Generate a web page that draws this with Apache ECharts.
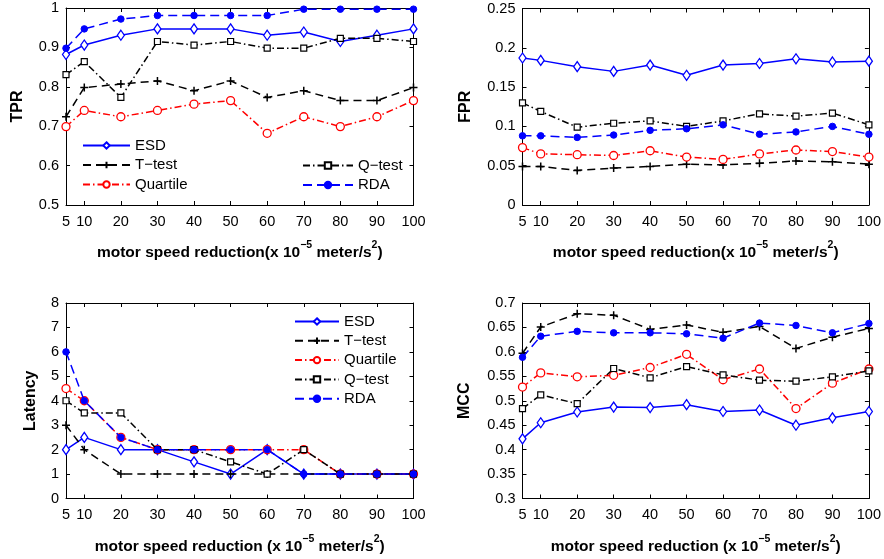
<!DOCTYPE html>
<html>
<head>
<meta charset="utf-8">
<script src="https://cdn.jsdelivr.net/npm/echarts@6/dist/echarts.min.js"></script>
<style>
  html, body { margin: 0; padding: 0; background: #fff; }
  #chart { width: 884px; height: 559px; }
</style>
</head>
<body>
<div id="chart"></div>
<script>
// Motor speed reduction levels (x 10^-5 meter/s^2)
const speedReduction = [5, 10, 20, 30, 40, 50, 60, 70, 80, 90, 100];

// True positive rate
const tprESD      = [0.882, 0.906, 0.931, 0.947, 0.947, 0.947, 0.931, 0.939, 0.915, 0.931, 0.947];
const tprTtest    = [0.724, 0.798, 0.807, 0.815, 0.790, 0.815, 0.773, 0.790, 0.765, 0.765, 0.798];
const tprQuartile = [0.699, 0.740, 0.724, 0.740, 0.756, 0.765, 0.682, 0.724, 0.699, 0.724, 0.765];
const tprQtest    = [0.831, 0.864, 0.773, 0.915, 0.906, 0.915, 0.898, 0.898, 0.923, 0.923, 0.915];
const tprRDA      = [0.898, 0.947, 0.972, 0.981, 0.981, 0.981, 0.981, 0.997, 0.997, 0.997, 0.997];

// False positive rate
const fprESD      = [0.187, 0.184, 0.176, 0.170, 0.178, 0.165, 0.178, 0.180, 0.186, 0.182, 0.183];
const fprTtest    = [0.049, 0.049, 0.044, 0.047, 0.049, 0.052, 0.051, 0.053, 0.056, 0.055, 0.052];
const fprQuartile = [0.073, 0.065, 0.064, 0.063, 0.069, 0.061, 0.058, 0.065, 0.070, 0.068, 0.061];
const fprQtest    = [0.130, 0.119, 0.099, 0.104, 0.107, 0.100, 0.107, 0.116, 0.113, 0.117, 0.102];
const fprRDA      = [0.088, 0.088, 0.086, 0.089, 0.095, 0.097, 0.102, 0.090, 0.093, 0.100, 0.090];

// Detection latency
const latESD      = [2, 2.5, 2, 2, 1.5, 1, 2, 1, 1, 1, 1];
const latTtest    = [3, 2, 1, 1, 1, 1, 1, 1, 1, 1, 1];
const latQuartile = [4.5, 4, 2.5, 2, 2, 2, 2, 2, 1, 1, 1];
const latQtest    = [4, 3.5, 3.5, 2, 2, 1.5, 1, 2, 1, 1, 1];
const latRDA      = [6, 4, 2.5, 2, 2, 2, 2, 1, 1, 1, 1];

// Matthews correlation coefficient
const mccESD      = [0.422, 0.455, 0.477, 0.487, 0.486, 0.492, 0.478, 0.481, 0.450, 0.465, 0.478];
const mccTtest    = [0.597, 0.651, 0.678, 0.675, 0.646, 0.655, 0.640, 0.652, 0.607, 0.630, 0.648];
const mccQuartile = [0.528, 0.557, 0.549, 0.552, 0.568, 0.595, 0.543, 0.565, 0.484, 0.536, 0.565];
const mccQtest    = [0.484, 0.512, 0.494, 0.566, 0.547, 0.570, 0.553, 0.542, 0.540, 0.549, 0.561];
const mccRDA      = [0.589, 0.632, 0.642, 0.639, 0.639, 0.637, 0.628, 0.659, 0.654, 0.639, 0.658];

const methodNames = ['ESD', 'T\u2212test', 'Quartile', 'Q\u2212test', 'RDA'];

const FONT = '"Liberation Sans", Arial, Helvetica, sans-serif';
const BLUE = '#0000ff', RED = '#ff0000', BLACK = '#000000';
const PLUS = 'path://M5,0L5,10M0,5L10,5';

// Visual style per method (line, dash, marker)
const methodStyles = [
  { color: BLUE,  dash: 'solid',         symbol: 'diamond', size: [7, 10], fill: '#fff', bw: 1.3 },
  { color: BLACK, dash: [8, 5],          symbol: PLUS,      size: 8,       fill: BLACK,  bw: 1.5 },
  { color: RED,   dash: [7, 3, 1.5, 3],  symbol: 'circle',  size: 8,       fill: '#fff', bw: 1.3 },
  { color: BLACK, dash: [7, 3, 1.5, 3],  symbol: 'rect',    size: 6,       fill: '#fff', bw: 1.2 },
  { color: BLUE,  dash: [9, 5],          symbol: 'circle',  size: 6.5,     fill: BLUE,   bw: 1 }
];

const panels = [
  { grid: { left: 66,  top: 8,   width: 347.5, height: 197 }, yName: 'TPR',     yGap: 40, min: 0.5, max: 1,    step: 0.1,  xTitle: 'motor speed reduction(x 10', sets: [tprESD, tprTtest, tprQuartile, tprQtest, tprRDA] },
  { grid: { left: 522.5, top: 8.5, width: 347.5, height: 196.5 }, yName: 'FPR',   yGap: 49, min: 0,   max: 0.25, step: 0.05, xTitle: 'motor speed reduction(x 10', sets: [fprESD, fprTtest, fprQuartile, fprQtest, fprRDA] },
  { grid: { left: 66,  top: 303, width: 347.5, height: 195.5 }, yName: 'Latency', yGap: 27, min: 0,   max: 8,    step: 1,    xTitle: 'motor speed reduction (x 10', sets: [latESD, latTtest, latQuartile, latQtest, latRDA] },
  { grid: { left: 522.5, top: 303, width: 347.5, height: 195.5 }, yName: 'MCC',   yGap: 50, min: 0.3, max: 0.7,  step: 0.05, xTitle: 'motor speed reduction (x 10', sets: [mccESD, mccTtest, mccQuartile, mccQtest, mccRDA] }
];

const grids = [], xAxes = [], yAxes = [], series = [];
const axisLine = { show: true, onZero: false, lineStyle: { color: BLACK, width: 1 } };
const tickIn = { show: true, inside: true, length: 4, lineStyle: { color: BLACK, width: 1 } };
const fmt = v => String(+v.toFixed(3));

panels.forEach((p, i) => {
  grids.push(Object.assign({ containLabel: false }, p.grid));
  const xName = '{t|' + p.xTitle + '}{s|\u22125}{t| meter/s}{s|2}{t|)}';
  xAxes.push({
    type: 'value', gridIndex: i, min: 5, max: 100, position: 'bottom',
    name: xName, nameLocation: 'middle', nameGap: 35,
    nameTextStyle: {
      rich: {
        t: { fontFamily: FONT, fontWeight: 'bold', fontSize: 15.5, color: BLACK, lineHeight: 21, verticalAlign: 'bottom' },
        s: { fontFamily: FONT, fontWeight: 'bold', fontSize: 10.5, color: BLACK, lineHeight: 21, verticalAlign: 'top' }
      }
    },
    axisLine, splitLine: { show: false },
    axisTick: Object.assign({ customValues: speedReduction }, tickIn),
    axisLabel: { customValues: speedReduction, margin: 9, fontFamily: FONT, fontSize: 14.5, color: BLACK }
  });
  xAxes.push({
    type: 'value', gridIndex: i, min: 5, max: 100, position: 'top',
    axisLine, splitLine: { show: false },
    axisTick: Object.assign({ customValues: speedReduction }, tickIn),
    axisLabel: { show: false }
  });
  yAxes.push({
    type: 'value', gridIndex: i, min: p.min, max: p.max, interval: p.step, position: 'left',
    name: p.yName, nameLocation: 'middle', nameGap: p.yGap,
    nameTextStyle: { fontFamily: FONT, fontWeight: 'bold', fontSize: 16, color: BLACK },
    axisLine, splitLine: { show: false }, axisTick: tickIn,
    axisLabel: { formatter: fmt, margin: 7, fontFamily: FONT, fontSize: 14.5, color: BLACK }
  });
  yAxes.push({
    type: 'value', gridIndex: i, min: p.min, max: p.max, interval: p.step, position: 'right',
    axisLine, splitLine: { show: false }, axisTick: tickIn, axisLabel: { show: false }
  });
  p.sets.forEach((vals, k) => {
    const st = methodStyles[k];
    series.push({
      type: 'line', name: methodNames[k],
      xAxisIndex: 2 * i, yAxisIndex: 2 * i,
      data: speedReduction.map((x, j) => [x, vals[j]]),
      symbol: st.symbol, symbolSize: st.size, showSymbol: true,
      lineStyle: { color: st.color, width: 1.5, type: st.dash },
      itemStyle: { color: st.fill, borderColor: st.color, borderWidth: st.bw },
      emphasis: { disabled: true }, animation: false, z: 2 + k
    });
  });
});

const legendBase = {
  orient: 'vertical', padding: 0, itemHeight: 8, itemGap: 4.5,
  textStyle: { fontFamily: FONT, fontSize: 15, color: BLACK },
  selectedMode: false
};

const option = {
  backgroundColor: '#fff',
  animation: false,
  grid: grids, xAxis: xAxes, yAxis: yAxes, series,
  legend: [
    Object.assign({}, legendBase, { data: methodNames.slice(0, 3), left: 82, top: 138, itemWidth: 47 }),
    Object.assign({}, legendBase, { data: methodNames.slice(3), left: 302, top: 158, itemWidth: 50 }),
    Object.assign({}, legendBase, { data: methodNames, left: 294, top: 314, itemWidth: 44, itemGap: 4.3 })
  ]
};

const chart = echarts.init(document.getElementById('chart'), null, { renderer: 'canvas' });
chart.setOption(option);
</script>
</body>
</html>
